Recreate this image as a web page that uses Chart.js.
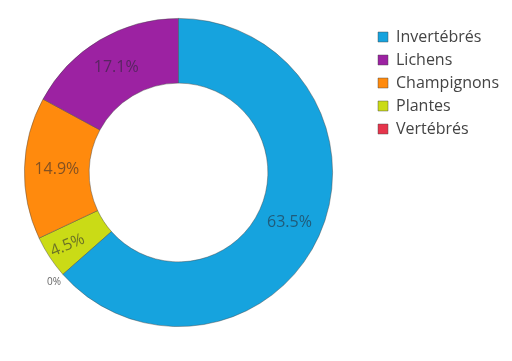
<!DOCTYPE html>
<html>
<head>
<meta charset="utf-8">
<script src="https://cdn.jsdelivr.net/npm/chart.js@4.4.0/dist/chart.umd.min.js"></script>
<style>
  html, body { margin: 0; padding: 0; background: #fff; overflow: hidden; }
  #donut { margin-left: -14px; display: block; }
</style>
</head>
<body>
<canvas id="donut" width="526" height="361"></canvas>
<script>
// groupes dans l'ordre de la légende
const groupes = ['Invertébrés', 'Lichens', 'Champignons', 'Plantes', 'Vertébrés'];
const parts = [63.5, 17.1, 14.9, 4.5, 0]; // en %
const couleurs = ['#16a3de', '#9c22a2', '#ff8a0d', '#cadb16', '#e6354c'];

// le premier groupe part de midi dans le sens horaire, les autres reviennent à rebours
const total = parts.reduce((a, b) => a + b, 0);
const debut = parts[0] / total * 360;
const ordre = groupes.map((_, i) => i).reverse();

const etiquettes = {
    id: 'etiquettes',
    afterDatasetsDraw(chart) {
        const ctx = chart.ctx;
        const meta = chart.getDatasetMeta(0);
        const valeurs = chart.data.datasets[0].data;
        meta.data.forEach((arc, i) => {
            const v = valeurs[i];
            const p = arc.getProps(['x', 'y', 'startAngle', 'endAngle', 'innerRadius', 'outerRadius'], true);
            const mid = (p.startAngle + p.endAngle) / 2;
            ctx.save();
            ctx.textAlign = 'center';
            ctx.textBaseline = 'middle';
            if (v === 0) {
                // tranche vide : petit texte à l'extérieur
                const r = p.outerRadius + 12;
                ctx.font = '10px "Open Sans"';
                ctx.fillStyle = '#666';
                ctx.fillText('0%', p.x + Math.cos(mid) * r, p.y + Math.sin(mid) * r);
            } else {
                const petit = (p.endAngle - p.startAngle) < 0.4;
                const r = (p.innerRadius + p.outerRadius) / 2 + (petit ? 11 : 0);
                ctx.translate(p.x + Math.cos(mid) * r, p.y + Math.sin(mid) * r);
                if (petit) ctx.rotate(-0.4);
                ctx.font = '16px "Open Sans"';
                ctx.fillStyle = 'rgba(40,40,50,0.58)';
                ctx.fillText(v.toFixed(1) + '%', 0, 0);
            }
            ctx.restore();
        });
    }
};

new Chart(document.getElementById('donut'), {
    type: 'doughnut',
    data: {
        labels: ordre.map(i => groupes[i]),
        datasets: [{
            data: ordre.map(i => parts[i]),
            backgroundColor: ordre.map(i => couleurs[i]),
            borderColor: 'rgba(70,70,70,0.55)',
            borderWidth: 0.8,
            hoverOffset: 0,
        }]
    },
    options: {
        responsive: false,
        animation: false,
        rotation: debut,
        cutout: '58%',
        layout: { padding: { left: 0, top: 18, bottom: 34, right: 3 } },
        plugins: {
            tooltip: { enabled: false },
            legend: {
                position: 'right',
                align: 'start',
                reverse: true,
                title: { display: true, text: '', font: { size: 1, lineHeight: 1 }, padding: 1.5 },
                labels: {
                    boxWidth: 10,
                    boxHeight: 10,
                    padding: 7,
                    color: '#444',
                    font: { family: 'Open Sans', size: 16 },
                }
            }
        }
    },
    plugins: [etiquettes]
});
</script>
</body>
</html>
